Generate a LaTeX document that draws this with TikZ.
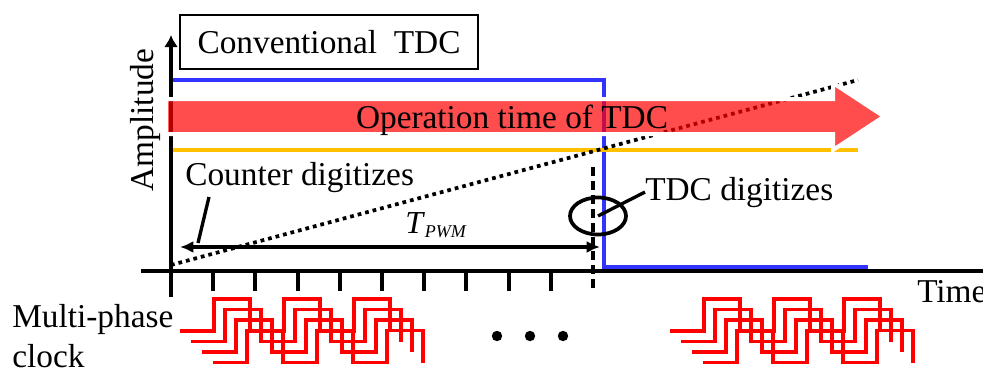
\documentclass[tikz,border=0pt]{standalone}
\usepackage{fontspec}
\setmainfont{Liberation Serif}
\usetikzlibrary{arrows.meta,shapes.geometric}
\definecolor{sigblue}{RGB}{51,51,255}
\definecolor{sigorange}{RGB}{255,192,0}
\definecolor{clkred}{RGB}{255,0,0}
\begin{document}
\begin{tikzpicture}[x=0.75pt,y=-0.75pt,
  lbl/.style={font=\fontsize{25}{30}\selectfont, inner sep=0pt},
  axisline/.style={line width=3.2pt},
  tickline/.style={line width=3pt},
  clk/.style={clkred, line width=2.8pt, line join=miter},
  ptr/.style={line width=2.5pt}]
\useasboundingbox (0,0) rectangle (983,369);

% multi-phase clock waveforms (two groups of four phases)
\foreach \gx in {180,670} {
  \foreach \k in {0,1,2,3} {
    \pgfmathsetmacro\xa{\gx+11*\k}
    \pgfmathsetmacro\yl{331+10.5*\k}
    \draw[clk] (\xa,\yl) -- ++(34,0) -- ++(0,-32) -- ++(36,0) -- ++(0,32)
      -- ++(34,0) -- ++(0,-32) -- ++(36,0) -- ++(0,32)
      -- ++(34,0) -- ++(0,-32) -- ++(36,0) -- ++(0,32);
  }
}
\foreach \px in {497,530,563} \fill (\px,336) circle [radius=3.9pt];

% signals
\draw[sigblue, line width=2.9pt] (170,80) -- (604,80) -- (604,267) -- (868,267);
\draw[sigorange, line width=2.5pt] (171,150) -- (858,150);

% axes
\coordinate (xa0) at (141,271);
\coordinate (xa1) at (990,271);
\coordinate (ya0) at (171,297);
\coordinate (ya1) at (171,35);
\draw[axisline] (xa0) -- (xa1);
\draw[axisline, -{Latex[length=9pt,width=10.5pt]}] (ya0) -- (ya1);
\foreach \i in {1,...,9} \draw[tickline] (171+42.2*\i,271) -- (171+42.2*\i,291);

% ramp and sampling instant
\coordinate (r0) at (171,265);
\coordinate (r1) at (858,80);
\draw[line width=2.8pt, dash pattern=on 2.8pt off 3pt] (r0) -- (r1);
\coordinate (s0) at (593,167);
\coordinate (s1) at (593,291);
\draw[line width=2.6pt, dash pattern=on 7pt off 3.5pt] (s0) -- (s1);

% operation-time arrow
\draw[white, line width=3pt, fill=clkred, fill opacity=0.7, line join=miter]
  (166,99) -- (833,99) -- (833,83) -- (884,116.5) -- (833,150) -- (833,134) -- (166,134) -- cycle;
\node[lbl, anchor=base] (op) at (512,128) {Operation time of TDC};

% labels
\node[lbl, draw, line width=1.1pt, minimum width=223.5pt, minimum height=40.5pt] (title) at (329,42) {Conventional\ \ TDC};
\node[lbl, rotate=90, anchor=base] (amp) at (153,120) {Amplitude};
\node[lbl, anchor=base west] (cd) at (185,185) {Counter digitizes};
\node[lbl, anchor=base west] (tdcd) at (645,200) {TDC digitizes};
\node[lbl, anchor=base west] (tm) at (917,302) {Time};
\node[lbl, anchor=base west] (mp) at (12,327) {Multi-phase};
\node[lbl, anchor=base west] (ck) at (12,367) {clock};

% T_PWM interval
\coordinate (tl) at (180,247);
\coordinate (tr) at (600,247);
\draw[ptr, {Latex[length=10pt,width=9pt]}-{Latex[length=10pt,width=9pt]}] (tl) -- (tr);
\node[anchor=base west, inner sep=0pt] (tp) at (405,233)
  {\fontsize{24}{28}\selectfont\textit{T}\raisebox{-3pt}{\fontsize{13.5}{15}\selectfont\textit{PWM}}};

% pointers
\coordinate (cp0) at (209,197);
\coordinate (cp1) at (198,243);
\draw[ptr] (cp0) -- (cp1);
\node[ellipse, draw, line width=2.8pt, minimum width=42pt, minimum height=27.75pt, inner sep=0pt] (ell) at (598,216) {};
\draw[ptr] (ell.center) -- (tdcd.west);
\end{tikzpicture}
\end{document}
